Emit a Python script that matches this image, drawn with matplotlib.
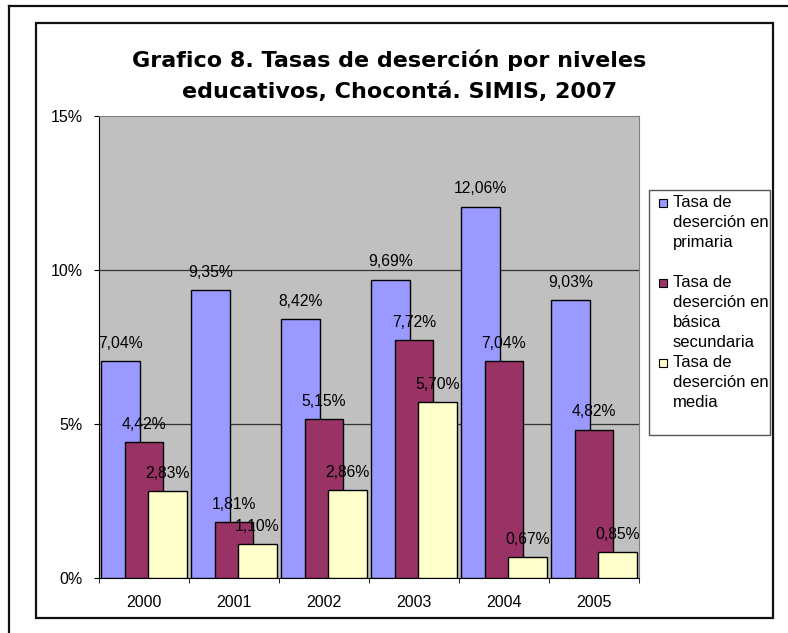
import matplotlib.pyplot as plt
import numpy as np
from matplotlib.patches import Rectangle
from matplotlib.lines import Line2D

plt.rcParams['font.family'] = ['Liberation Sans', 'DejaVu Sans']

years = ['2000', '2001', '2002', '2003', '2004', '2005']
primaria = [7.04, 9.35, 8.42, 9.69, 12.06, 9.03]
basica = [4.42, 1.81, 5.15, 7.72, 7.04, 4.82]
media = [2.83, 1.10, 2.86, 5.70, 0.67, 0.85]
series_names = [['Tasa de', 'deserción en', 'primaria'],
                ['Tasa de', 'deserción en', 'básica', 'secundaria'],
                ['Tasa de', 'deserción en', 'media']]
colors = ['#9999FF', '#993366', '#FFFFCC']
title1 = 'Grafico 8. Tasas de deserción por niveles'
title2 = 'educativos, Chocontá. SIMIS, 2007'

W, H = 788, 633
fig = plt.figure(figsize=(W / 100, H / 100), dpi=100)


def fx(x):
    return x / W


def fy(y):
    return 1 - y / H


# outer frame and chart frame
fig.add_artist(Line2D([fx(9), 1], [fy(6), fy(6)], color='#111111', lw=1.6))
fig.add_artist(Line2D([fx(9), fx(9)], [fy(6), 0], color='#111111', lw=1.6))
fig.add_artist(Rectangle((fx(36), fy(618)), fx(773) - fx(36), fy(23) - fy(618),
                         fill=False, edgecolor='#111111', lw=1.6))

ax = fig.add_axes([fx(99), fy(578), fx(639) - fx(99), fy(116) - fy(578)])
ax.set_facecolor('#C0C0C0')

x = np.arange(len(years))
width = 0.433
offsets = [-0.26, 0, 0.26]
for vals, off, c in zip([primaria, basica, media], offsets, colors):
    ax.bar(x + off, vals, width, color=c, edgecolor='black', lw=1, zorder=3)
for vals, off in zip([primaria, basica, media], offsets):
    for xi, v in zip(x, vals):
        ax.annotate(f'{v:.2f}%'.replace('.', ','), (xi + off, v), xytext=(0, 9.4),
                    textcoords='offset points', ha='center', va='baseline',
                    fontsize=11.3, zorder=5)

ax.set_xlim(-0.5, len(years) - 0.5)
ax.set_ylim(0, 15)
ax.set_yticks([0, 5, 10, 15])
ax.set_yticklabels(['0%', '5%', '10%', '15%'], fontsize=11.5)
ax.set_xticks(x)
ax.set_xticklabels(years, fontsize=11.5)
ax.set_xticks(np.arange(-0.5, len(years)), minor=True)
ax.tick_params(axis='x', which='major', length=0, pad=12)
ax.tick_params(axis='x', which='minor', length=3.6, direction='out', color='black')
ax.tick_params(axis='y', length=3.6, direction='out', pad=8, color='black')
for yv in [5, 10]:
    ax.axhline(yv, color='#333333', lw=0.9, zorder=1)
ax.spines['top'].set_color('#808080')
ax.spines['right'].set_color('#808080')
ax.spines['left'].set_color('black')
ax.spines['bottom'].set_color('black')

fig.text(fx(389), fy(67), title1, ha='center', va='baseline',
         fontsize=16, fontweight='bold', family='DejaVu Sans')
fig.text(fx(400), fy(98), title2, ha='center', va='baseline',
         fontsize=16, fontweight='bold', family='DejaVu Sans')

# legend box
fig.add_artist(Rectangle((fx(649), fy(435)), fx(770) - fx(649), fy(190) - fy(435),
                         facecolor='white', edgecolor='#555555', lw=1))
for i, (lines, c) in enumerate(zip(series_names, colors)):
    top = 199 + 80 * i
    fig.add_artist(Rectangle((fx(659), fy(top + 8)), fx(8), fy(0) - fy(8),
                             facecolor=c, edgecolor='black', lw=0.8))
    for k, line in enumerate(lines):
        fig.text(fx(673), fy(207 + 80 * i + 20 * k), line, ha='left',
                 va='baseline', fontsize=12)

fig.savefig('out.png', dpi=100)
